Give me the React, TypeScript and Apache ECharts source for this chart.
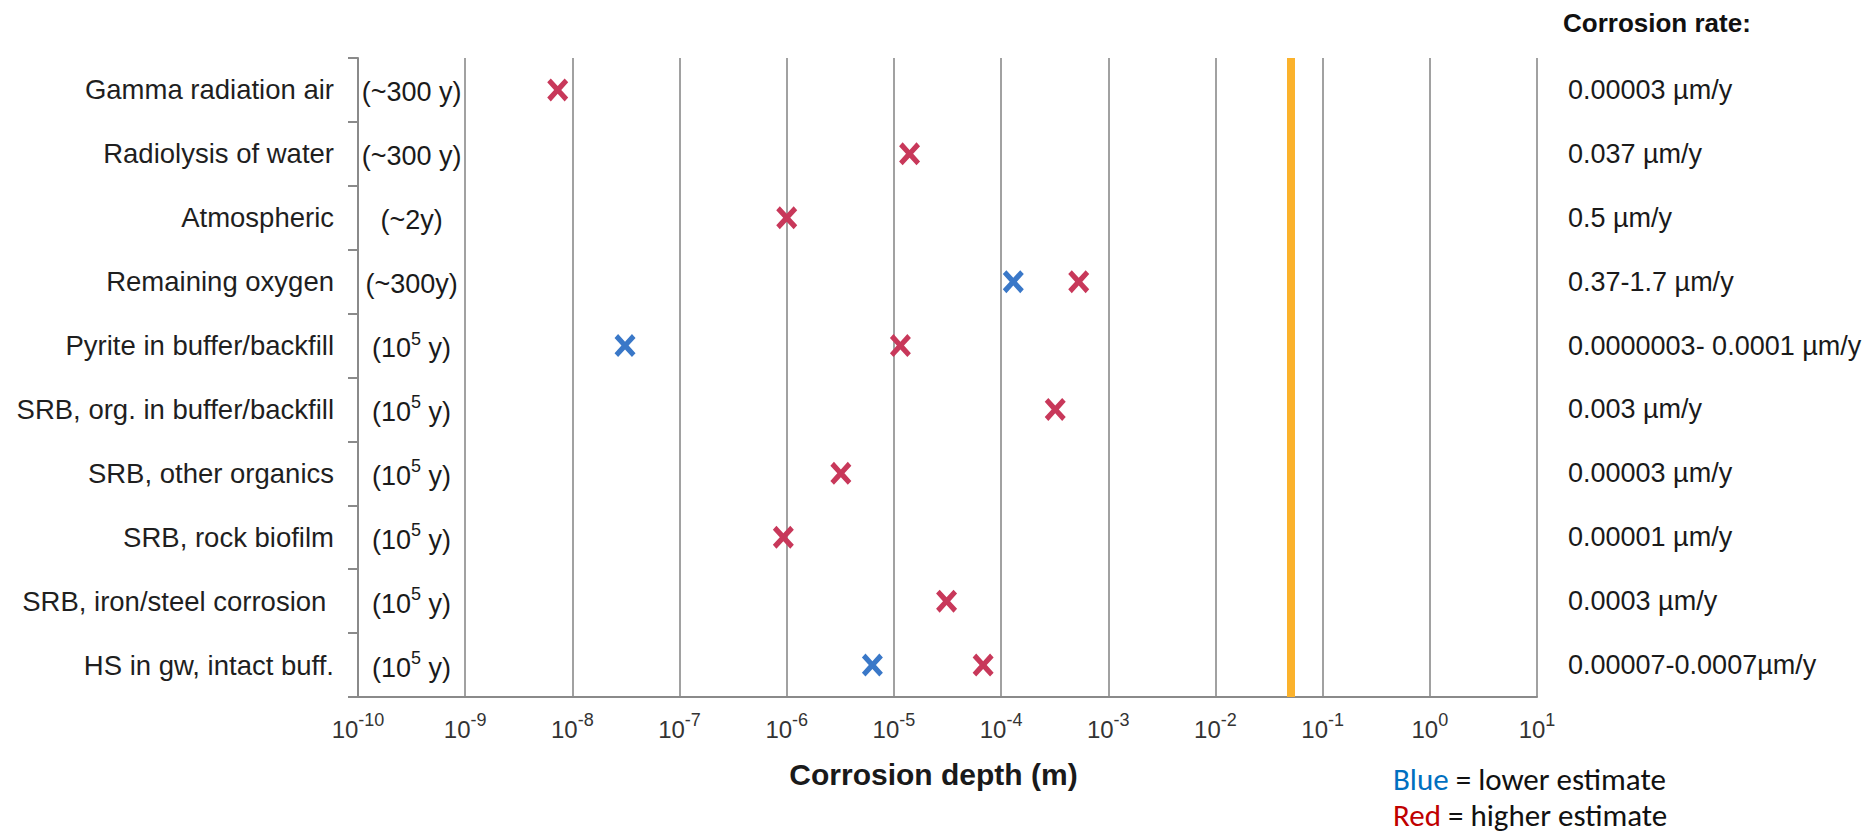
import React, { useEffect, useRef } from "react";
import * as echarts from "echarts";

const categories = [
  "Gamma radiation air",
  "Radiolysis of water",
  "Atmospheric",
  "Remaining oxygen",
  "Pyrite in buffer/backfill",
  "SRB, org. in buffer/backfill",
  "SRB, other organics",
  "SRB, rock biofilm",
  "SRB, iron/steel corrosion ",
  "HS in gw, intact buff.",
];

// duration labels; "^5" is rendered as a superscript
const durations = [
  "(~300 y)",
  "(~300 y)",
  "(~2y)",
  "(~300y)",
  "(10^5 y)",
  "(10^5 y)",
  "(10^5 y)",
  "(10^5 y)",
  "(10^5 y)",
  "(10^5 y)",
];

const rates = [
  "0.00003 µm/y",
  "0.037 µm/y",
  "0.5 µm/y",
  "0.37-1.7 µm/y",
  "0.0000003- 0.0001 µm/y",
  "0.003 µm/y",
  "0.00003 µm/y",
  "0.00001 µm/y",
  "0.0003 µm/y",
  "0.00007-0.0007µm/y",
];

// corrosion depth (m)
const higherEstimate = [7.3e-9, 1.4e-5, 1e-6, 5.3e-4, 1.15e-5, 3.2e-4, 3.2e-6, 9.3e-7, 3.1e-5, 6.8e-5];
const lowerEstimate: (number | null)[] = [null, null, null, 1.3e-4, 3.1e-8, null, null, null, null, 6.3e-6];

const canisterThickness = 0.05; // m (orange line)
const durationLabelX = Math.pow(10, -9.5);

const FONT = "Liberation Sans, Arial, sans-serif";
const LEGEND_FONT = "Carlito, Lato, sans-serif";
const RED = "#c8385a";
const BLUE = "#3a78c8";
const GRAY = "#8a8a8a";

const xSymbol =
  "path://M0,17 L17,0 L50,33 L83,0 L100,17 L67,50 L100,83 L83,100 L50,67 L17,100 L0,83 L33,50 Z";

export default function App() {
  const ref = useRef<HTMLDivElement>(null);
  useEffect(() => {
    const chart = echarts.init(ref.current!, null, { renderer: "svg" });
    const option: any = {
      animation: false,
      backgroundColor: "#ffffff",
      grid: { left: 358, right: 335, top: 58, bottom: 136, containLabel: false },
      xAxis: {
        type: "log",
        logBase: 10,
        min: 1e-10,
        max: 10,
        interval: 1,
        axisLine: { show: true, lineStyle: { color: GRAY, width: 2 } },
        axisTick: { show: false },
        splitLine: { show: true, lineStyle: { color: GRAY, width: 1.6 } },
        axisLabel: {
          margin: 14,
          formatter: (v: number) => `{b|10}{s|${Math.round(Math.log10(v))}}`,
          rich: {
            b: { fontSize: 24, fontFamily: FONT, color: "#333", lineHeight: 30, verticalAlign: "bottom" },
            s: { fontSize: 18, fontFamily: FONT, color: "#333", lineHeight: 30, verticalAlign: "top" },
          },
        },
        name: "Corrosion depth (m)",
        nameLocation: "middle",
        nameGap: 62,
        nameTextStyle: {
          fontSize: 30,
          fontWeight: "bold",
          fontFamily: FONT,
          color: "#1a1a1a",
          padding: [0, 28, 0, 0],
        },
      },
      yAxis: [
        {
          type: "category",
          inverse: true,
          data: categories,
          axisLine: { show: true, lineStyle: { color: GRAY, width: 2 } },
          axisTick: { show: true, length: 10, lineStyle: { color: GRAY, width: 2 } },
          splitLine: { show: false },
          axisLabel: { fontSize: 27.5, fontFamily: FONT, color: "#1f1f1f", margin: 24 },
        },
        {
          type: "category",
          inverse: true,
          position: "right",
          data: rates,
          axisLine: { show: false },
          axisTick: { show: false },
          splitLine: { show: false },
          axisLabel: { fontSize: 27, fontFamily: FONT, color: "#1a1a1a", margin: 31 },
        },
      ],
      series: [
        {
          type: "scatter",
          name: "durations",
          yAxisIndex: 0,
          symbolSize: 0,
          silent: true,
          itemStyle: { color: "#1a1a1a", opacity: 1 },
          data: durations.map((_, i) => [durationLabelX, i]),
          label: {
            show: true,
            position: "inside",
            color: "#1a1a1a",
            textBorderWidth: 0,
            formatter: (p: any) => {
              const d = durations[p.dataIndex];
              if (d.includes("^")) {
                const [a, rest] = d.split("^");
                return `{n|${a}}{s|${rest.charAt(0)}}{n|${rest.slice(1)}}`;
              }
              return `{n|${d}}`;
            },
            rich: {
              n: { fontSize: 27, fontFamily: FONT, color: "#1a1a1a", lineHeight: 32, verticalAlign: "bottom", textBorderWidth: 0 },
              s: { fontSize: 18, fontFamily: FONT, color: "#1a1a1a", lineHeight: 32, verticalAlign: "top", textBorderWidth: 0 },
            },
          },
        },
        {
          type: "scatter",
          name: "Higher estimate",
          yAxisIndex: 0,
          symbol: xSymbol,
          symbolSize: [21, 23],
          itemStyle: { color: RED, opacity: 1 },
          data: higherEstimate.map((v, i) => [v, i]),
          markLine: {
            silent: true,
            symbol: ["none", "none"],
            label: { show: false },
            lineStyle: { color: "#fbb22c", width: 8, type: "solid", opacity: 1 },
            data: [{ xAxis: canisterThickness }],
          },
        },
        {
          type: "scatter",
          name: "Lower estimate",
          yAxisIndex: 0,
          symbol: xSymbol,
          symbolSize: [21, 23],
          itemStyle: { color: BLUE, opacity: 1 },
          data: lowerEstimate
            .map((v, i) => (v == null ? null : [v, i]))
            .filter((d) => d != null),
        },
      ],
      graphic: [
        {
          type: "text",
          left: 1563,
          top: 10,
          style: { text: "Corrosion rate:", fontSize: 26, fontWeight: "bold", fontFamily: FONT, fill: "#111" },
        },
        {
          type: "text",
          left: 1393,
          top: 763,
          style: {
            text: "{b|Blue} = lower estimate",
            fontSize: 31,
            fontFamily: LEGEND_FONT,
            fill: "#111",
            rich: { b: { fill: "#0070c0", fontSize: 31, fontFamily: LEGEND_FONT } },
          },
        },
        {
          type: "text",
          left: 1393,
          top: 799,
          style: {
            text: "{r|Red} = higher estimate",
            fontSize: 31,
            fontFamily: LEGEND_FONT,
            fill: "#111",
            rich: { r: { fill: "#c00000", fontSize: 31, fontFamily: LEGEND_FONT } },
          },
        },
      ],
    };
    chart.setOption(option);
    return () => chart.dispose();
  }, []);
  return (
    <div
      ref={ref}
      style={{ position: "fixed", left: 0, top: 0, width: 1872, height: 833, background: "#fff" }}
    />
  );
}
